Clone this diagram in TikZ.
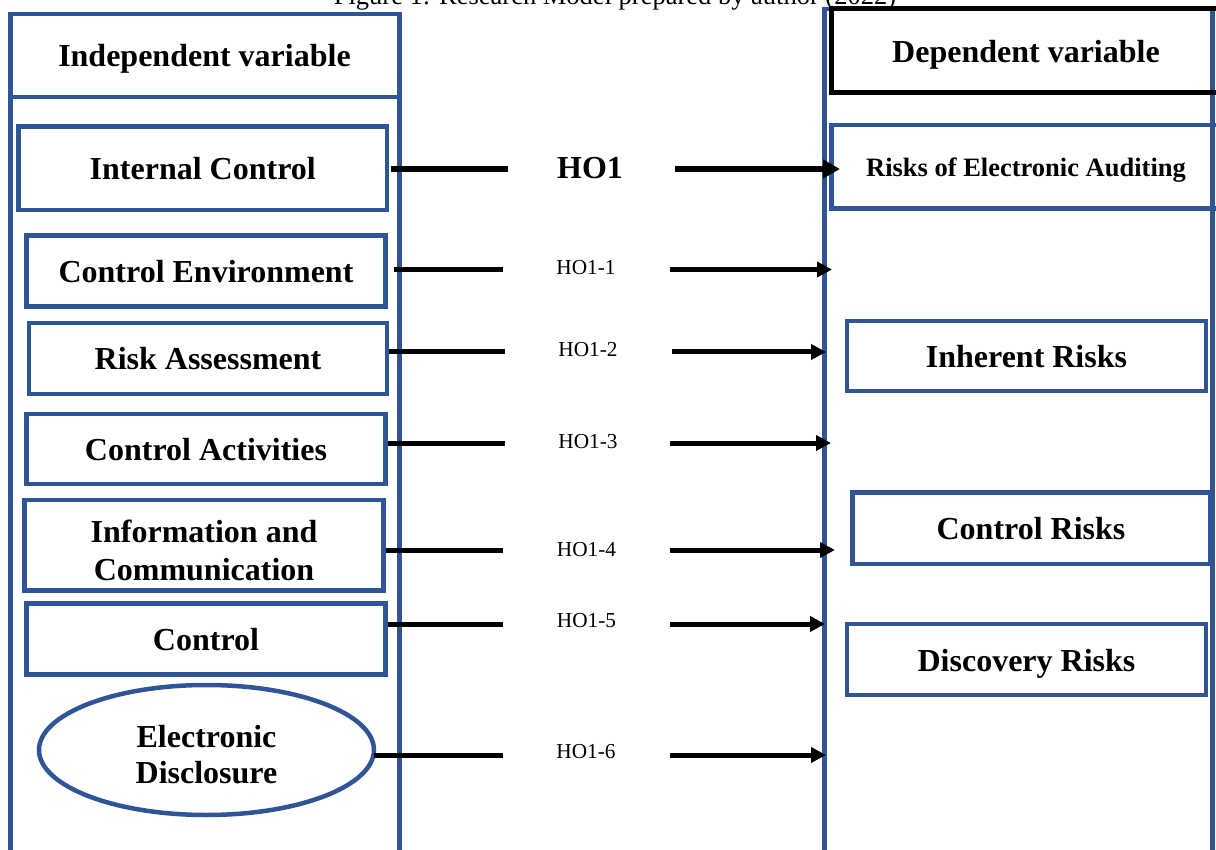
\documentclass[tikz,border=0pt]{standalone}
\usepackage{fontspec}
\setmainfont{Liberation Serif}
\usetikzlibrary{arrows.meta,shapes.geometric}
\definecolor{bblue}{RGB}{47,85,151}
\begin{document}
\begin{tikzpicture}[x=1pt,y=-1pt,
  box/.style={draw=bblue,line width=4.5pt,inner sep=0pt,text height=23pt,text depth=0pt,font=\bfseries\fontsize{32}{37}\selectfont},
  col/.style={draw=bblue,line width=4.5pt,line join=miter},
  head/.style={inner sep=0pt,anchor=base,font=\bfseries\fontsize{32}{37}\selectfont},
  seg/.style={line width=5pt},
  arr/.style={line width=5pt,-{Triangle[length=15pt,width=15pt]}},
  hlab/.style={inner sep=0pt,anchor=base,font=\fontsize{21.3}{25}\selectfont}]
\useasboundingbox (0,0) rectangle (1216,850);
\clip (0,0) rectangle (1216,850);

% caption (cut at top, as in the reference)
\node[anchor=base,inner sep=0pt,font=\fontsize{26.5}{30}\selectfont] (cap) at (615,4.5) {Figure 1: Research Model prepared by author (2022)};

% left column
\draw[col] (10.5,900) |- (399.5,14) -- (399.5,900);
\draw[col] (10.5,97) -- (399.5,97);
\node[head] (iv) at (204.5,67) {Independent variable};

% right column
\draw[col] (824.5,900) |- (1212.5,9) -- (1212.5,900);
\draw[line width=5pt,line join=miter] (1240,9) -| (831.5,92.5) -- (1240,92.5);
\node[head] (dv) at (1026,63) {Dependent variable};
\draw[col] (1240,125) -| (831.5,208.5) -- (1240,208.5);
\node[head,font=\bfseries\fontsize{26.5}{30}\selectfont] (roa) at (1026,177) {Risks of Electronic Auditing};

% left boxes
\node[box,minimum width=368.5,minimum height=83.5] (ic) at (202.75,168.25) {Internal Control};
\node[box,minimum width=359,minimum height=71] (ce) at (206,271) {Control Environment};
\node[box,minimum width=358,minimum height=71] (ra) at (208,358.5) {Risk Assessment};
\node[box,minimum width=359,minimum height=70] (ca) at (206,449) {Control Activities};
\node[box,minimum width=359,minimum height=90.5,text height=71pt] (info) at (204,545)
  {\fontsize{32}{38}\selectfont\begin{tabular}[b]{@{}c@{}}Information and\\Communication\end{tabular}};
\node[box,ellipse,minimum width=335,minimum height=130,text height=67pt] (ed) at (206.5,750)
  {\fontsize{32}{36}\selectfont\begin{tabular}[b]{@{}c@{}}Electronic\\Disclosure\end{tabular}};
\node[box,minimum width=359,minimum height=71] (co) at (206,639) {Control};

% right boxes
\node[box,minimum width=359,minimum height=70] (ir) at (1026.5,356) {Inherent Risks};
\node[box,minimum width=357.5,minimum height=71.5] (cr) at (1031,528) {Control Risks};
\node[box,minimum width=359,minimum height=71] (dr) at (1026.5,659.5) {Discovery Risks};

% hypothesis labels
\node[head] (h0) at (590,179) {HO1};
\node[hlab] (h1) at (586,275) {HO1-1};
\node[hlab] (h2) at (588,357) {HO1-2};
\node[hlab] (h3) at (588,448) {HO1-3};
\node[hlab] (h4) at (586.5,556) {HO1-4};
\node[hlab] (h5) at (586.5,627) {HO1-5};
\node[hlab] (h6) at (586,758) {HO1-6};

% connector coordinates
\coordinate (a0) at (508,169);   \coordinate (b0) at (675,169);   \coordinate (t0) at (840,169);
\coordinate (a1) at (503,269.5); \coordinate (b1) at (670,269.5); \coordinate (t1) at (832,269.5);
\coordinate (a2) at (505,352);   \coordinate (b2) at (672,352);   \coordinate (t2) at (826,352);
\coordinate (a3) at (505,443);   \coordinate (b3) at (670,443);   \coordinate (t3) at (831,443);
\coordinate (a4) at (503,550);   \coordinate (b4) at (670,550);   \coordinate (t4) at (835,550);
\coordinate (a5) at (503,624);   \coordinate (b5) at (670,624);   \coordinate (t5) at (825,624);
\coordinate (a6) at (503,755);   \coordinate (b6) at (670,755);   \coordinate (t6) at (826,755);

% connectors
\draw[seg,line width=5.5pt] ([xshift=2pt]ic.east |- a0) -- (a0);
\draw[line width=5.5pt,-{Triangle[length=17pt,width=18pt]}] (b0) -- (t0);
\draw[seg] ([xshift=6pt]ce.east |- a1) -- (a1);
\draw[arr] (b1) -- (t1);
\draw[seg] (ra.east |- a2) -- (a2);
\draw[arr] (b2) -- (t2);
\draw[seg] (ca.east |- a3) -- (a3);
\draw[arr] (b3) -- (t3);
\draw[seg] (info.east |- a4) -- (a4);
\draw[arr] (b4) -- (t4);
\draw[seg] (co.east |- a5) -- (a5);
\draw[arr] (b5) -- (t5);
\draw[seg] ([xshift=-2pt]ed.east |- a6) -- (a6);
\draw[arr] (b6) -- (t6);
\end{tikzpicture}
\end{document}
